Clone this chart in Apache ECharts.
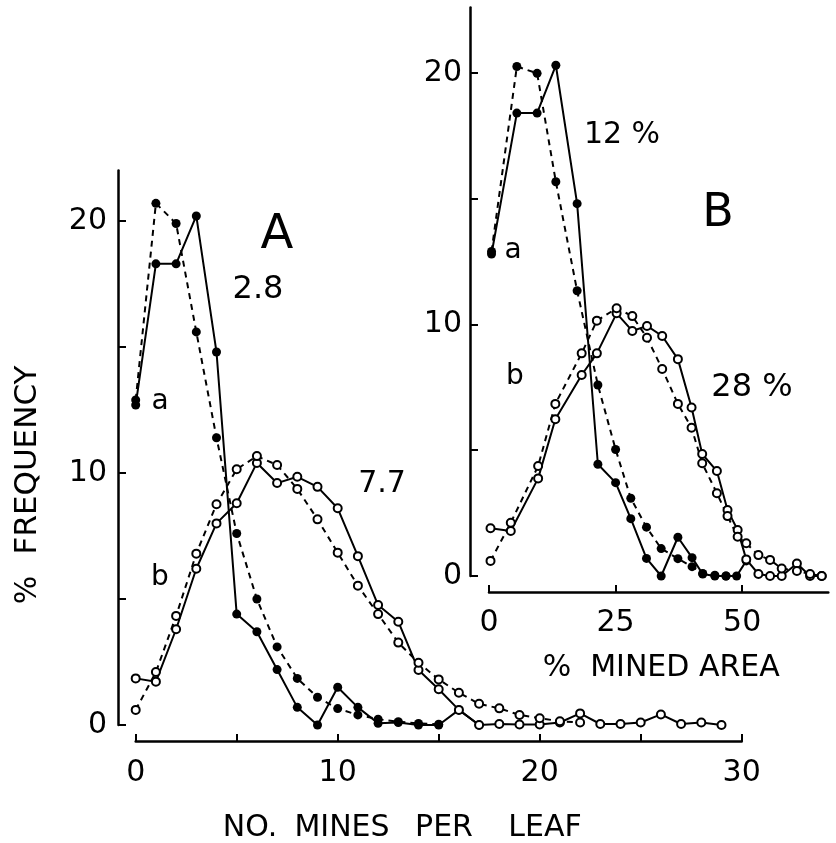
<!DOCTYPE html>
<html>
<head>
<meta charset="utf-8">
<script src="https://cdn.jsdelivr.net/npm/echarts@6/dist/echarts.min.js"></script>
<style>
html,body{margin:0;padding:0;background:#fff;}
#chart{width:836px;height:843px;}
</style>
</head>
<body>
<div id="chart"></div>
<script>
// ---------- Panel A: number of mines per leaf (x = 0,1,2,...) ----------
var aObsA = [12.7, 18.3, 18.3, 20.2, 14.8, 4.4, 3.7, 2.2, 0.7, 0.0, 1.5, 0.7, 0.07, 0.1, 0.0, 0.0, 0.6, 0.0];
var aExpA = [12.9, 20.7, 19.9, 15.6, 11.4, 7.6, 5.0, 3.1, 1.85, 1.1, 0.65, 0.4, 0.23, 0.13, 0.06, 0.03];
var bObsA = [1.85, 1.72, 3.8, 6.2, 8.0, 8.8, 10.4, 9.6, 9.85, 9.45, 8.6, 6.7, 4.76, 4.1, 2.18, 1.42, 0.6, 0.0, 0.04, 0.02, 0.02, 0.1, 0.46, 0.04, 0.04, 0.1, 0.42, 0.04, 0.1, 0.0];
var bExpA = [0.6, 2.1, 4.33, 6.8, 8.76, 10.15, 10.67, 10.32, 9.37, 8.16, 6.84, 5.53, 4.4, 3.27, 2.47, 1.81, 1.28, 0.84, 0.66, 0.4, 0.27, 0.15, 0.1];

// ---------- Panel B: % mined area ----------
var aXB    = [0.5, 5.5, 9.5, 13.2, 17.4, 21.5, 25.0, 28.0, 31.1, 34.0, 37.3, 40.1, 42.2, 44.6, 46.8, 48.9, 50.8];
var aObsB  = [12.8, 18.4, 18.4, 20.3, 14.8, 4.44, 3.71, 2.28, 0.7, 0.0, 1.54, 0.73, 0.08, 0.0, 0.0, 0.0, 0.6];
var aExpB  = [12.9, 20.25, 19.98, 15.67, 11.34, 7.59, 5.03, 3.09, 1.94, 1.09, 0.69, 0.37, 0.1, 0.03, 0.0];
var bXB    = [0.3, 4.3, 9.7, 13.1, 18.3, 21.3, 25.2, 28.3, 31.2, 34.2, 37.3, 40.0, 42.1, 45.0, 47.1, 49.1, 50.8, 53.2, 55.5, 57.8, 60.8, 63.4, 65.7];
var bObsB  = [1.9, 1.79, 3.88, 6.23, 7.99, 8.85, 10.44, 9.74, 9.94, 9.54, 8.62, 6.7, 4.85, 4.17, 2.62, 1.83, 0.66, 0.08, 0.0, 0.0, 0.5, 0.0, 0.0];
var bExpB  = [0.6, 2.12, 4.37, 6.84, 8.85, 10.15, 10.64, 10.33, 9.47, 8.23, 6.84, 5.89, 4.48, 3.29, 2.38, 1.56, 1.3, 0.83, 0.64, 0.3, 0.2, 0.08, 0.0];

// ---------- ticks and tick labels ----------
var yTicks = [0, 5, 10, 15, 20];
var yLabels = [0, 10, 20];
var xTicksA = [0, 5, 10, 15, 20, 25, 30];
var xLabelsA = [0, 10, 20, 30];
var xTicksB = [0, 25, 50];

var FONT = 'DejaVu Sans';
function idxPairs(arr){ return arr.map(function(v,i){return [i,v];}); }
function xyPairs(xs, ys){ return ys.map(function(v,i){return [xs[i],v];}); }

function lineSeries(name, data, xi, yi, dashed, filled){
  return {
    name: name, type: 'line', xAxisIndex: xi, yAxisIndex: yi, data: data,
    symbol: 'circle', symbolSize: filled ? 9 : 8,
    lineStyle: {color: '#000', width: 2, type: dashed ? [6, 5] : 'solid'},
    itemStyle: {color: filled ? '#000' : '#fff', borderColor: '#000', borderWidth: filled ? 0 : 2},
    animation: false, z: filled ? 3 : 4
  };
}

var axisText = {color: '#000', fontFamily: FONT, fontSize: 30};
function axisLine(){ return {show: true, onZero: false, lineStyle: {color: '#000', width: 2.5}}; }
function txt(s, x, y, size, rot){
  var g = {type: 'text', x: x, y: y, style: {text: s, fontSize: size, fontFamily: FONT, fill: '#000', align: 'center', verticalAlign: 'middle'}};
  if (rot) g.rotation = rot;
  return g;
}

var chart = echarts.init(document.getElementById('chart'), null, {renderer: 'canvas'});
chart.setOption({
  animation: false,
  backgroundColor: '#fff',
  grid: [
    {left: 135.7, width: 606, top: 170.6, height: 554.4},
    {left: 489, width: 339.3, top: 7.4, height: 568.6}
  ],
  xAxis: [
    {gridIndex: 0, type: 'value', min: 0, max: 30, interval: 5, offset: 16,
     axisLine: axisLine(),
     axisTick: {show: true, inside: true, length: 7, customValues: xTicksA, lineStyle: {color: '#000', width: 2}},
     axisLabel: Object.assign({customValues: xLabelsA, margin: 17}, axisText),
     splitLine: {show: false}},
    {gridIndex: 1, type: 'value', min: 0, max: 67, interval: 25, offset: 16,
     axisLine: axisLine(),
     axisTick: {show: true, inside: true, length: 7, customValues: xTicksB, lineStyle: {color: '#000', width: 2}},
     axisLabel: Object.assign({customValues: xTicksB, margin: 16}, axisText),
     splitLine: {show: false}}
  ],
  yAxis: [
    {gridIndex: 0, type: 'value', min: 0, max: 22, interval: 5, offset: 17.7,
     axisLine: axisLine(),
     axisTick: {show: true, inside: true, length: 8, customValues: yTicks, lineStyle: {color: '#000', width: 2}},
     axisLabel: Object.assign({customValues: yLabels, margin: 11}, axisText),
     splitLine: {show: false}},
    {gridIndex: 1, type: 'value', min: 0, max: 22.6, interval: 5, offset: 19,
     axisLine: axisLine(),
     axisTick: {show: true, inside: true, length: 8, customValues: yTicks, lineStyle: {color: '#000', width: 2}},
     axisLabel: Object.assign({customValues: yLabels, margin: 8}, axisText),
     splitLine: {show: false}}
  ],
  series: [
    lineSeries('a observed A', idxPairs(aObsA), 0, 0, false, true),
    lineSeries('a expected A', idxPairs(aExpA), 0, 0, true, true),
    lineSeries('b observed A', idxPairs(bObsA), 0, 0, false, false),
    lineSeries('b expected A', idxPairs(bExpA), 0, 0, true, false),
    lineSeries('a observed B', xyPairs(aXB, aObsB), 1, 1, false, true),
    lineSeries('a expected B', xyPairs(aXB, aExpB), 1, 1, true, true),
    lineSeries('b observed B', xyPairs(bXB, bObsB), 1, 1, false, false),
    lineSeries('b expected B', xyPairs(bXB, bExpB), 1, 1, true, false)
  ],
  graphic: [
    txt('A', 277, 236, 48),
    txt('B', 718, 214, 46),
    txt('2.8', 258, 290, 32),
    txt('7.7', 382, 484, 30),
    txt('12 %', 622, 135, 30),
    txt('28 %', 752, 388, 32),
    txt('a', 160, 402, 28),
    txt('b', 160, 578, 28),
    txt('a', 513, 251, 28),
    txt('b', 515, 377, 28),
    txt('%', 28, 590, 30, Math.PI / 2),
    txt('FREQUENCY', 28, 460, 31, Math.PI / 2),
    txt('NO.', 250, 828, 30),
    txt('MINES', 342, 828, 30),
    txt('PER', 444, 828, 30),
    txt('LEAF', 545, 828, 30),
    txt('%', 557, 668, 30),
    txt('MINED AREA', 685, 668, 30)
  ]
});
</script>
</body>
</html>
